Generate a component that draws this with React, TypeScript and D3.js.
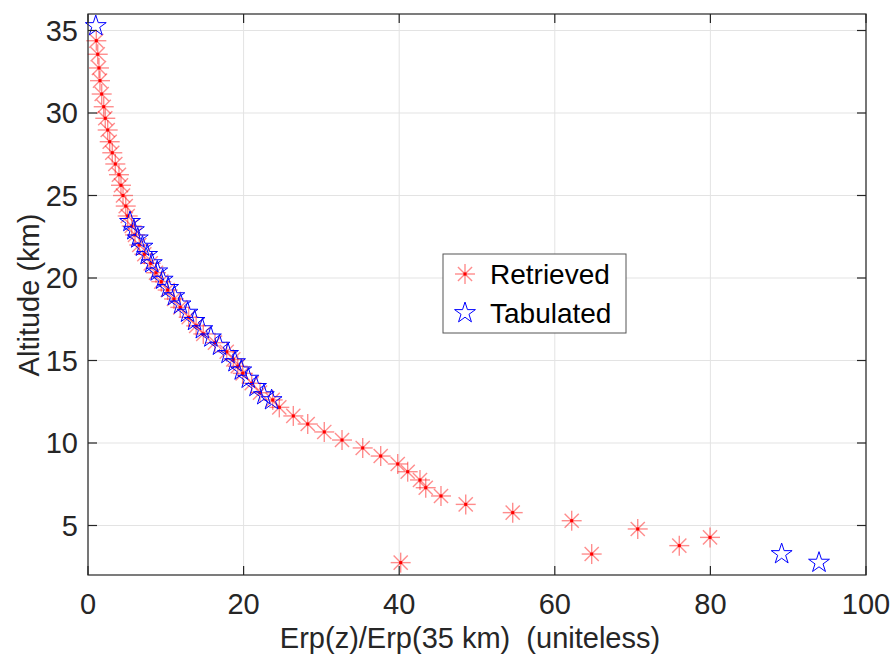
import React from "react";
import * as d3 from "d3";

const W = 892;
const H = 657;

// Retrieved profile: [Erp(z)/Erp(35 km), altitude km]
const retrievedX = [
  1.07, 1.25, 1.41, 1.54, 1.76, 2.02, 2.22, 2.53, 2.79, 3.12, 3.51, 3.98, 4.24, 4.5, 4.85, 5.1,
  5.62, 6.04, 6.59, 7.24, 8.06, 8.74, 9.42, 10.24, 11.05, 11.86, 12.94, 13.9, 14.82, 16.32, 17.83,
  18.68, 19.25, 19.88, 21.04, 22.11, 23.74, 24.59, 26.39, 28.24, 30.37, 32.65, 35.31, 37.62, 39.81,
  41.09, 42.67, 43.41, 45.37, 48.55, 54.59, 62.17, 70.66, 79.95, 76.0, 64.74, 40.19,
];
const retrievedAlt = [
  34.38, 33.56, 32.73, 31.96, 31.15, 30.38, 29.68, 28.97, 28.26, 27.59, 26.91, 26.26, 25.62, 25.0, 24.36, 23.76,
  23.15, 22.61, 22.0, 21.44, 20.89, 20.32, 19.78, 19.27, 18.73, 18.22, 17.62, 17.1, 16.61, 16.08, 15.53,
  15.07, 14.65, 14.22, 13.62, 13.05, 12.61, 12.16, 11.64, 11.15, 10.67, 10.18, 9.7, 9.21, 8.73,
  8.26, 7.76, 7.29, 6.79, 6.28, 5.78, 5.29, 4.79, 4.28, 3.78, 3.27, 2.75,
];

// Tabulated profile
const tabulatedX = [
  1.0, 5.4, 5.9, 6.4, 7.0, 7.6, 8.2, 8.9, 9.6, 10.3, 11.1, 11.9, 12.8, 13.7, 14.7, 15.8, 16.9,
  18.0, 18.9, 19.7, 20.6, 21.6, 22.6, 23.6, 89.16, 93.96,
];
const tabulatedAlt = [
  35.27, 23.4, 22.9, 22.4, 21.9, 21.4, 20.9, 20.4, 19.9, 19.4, 18.9, 18.4, 17.9, 17.4, 16.9, 16.4, 15.9,
  15.4, 14.9, 14.4, 13.9, 13.4, 12.9, 12.6, 3.27, 2.75,
];

const xTicks = [0, 20, 40, 60, 80, 100];
const yTicks = [5, 10, 15, 20, 25, 30, 35];
const xDomain = [0, 100];
const yDomain = [2, 36];

const xLabel = "Erp(z)/Erp(35 km)  (uniteless)";
const yLabel = "Altitude (km)";
const legendLabels = ["Retrieved", "Tabulated"];

const FONT = "'Liberation Sans', Arial, Helvetica, sans-serif";
const AX = "#262626";

function Asterisk({ x, y, r = 10 }: { x: number; y: number; r?: number }) {
  const d = r * 0.7071;
  return (
    <g transform={`translate(${x},${y})`}>
      <g stroke="#ff0000" strokeWidth={1.4} strokeOpacity={0.45}>
        <line x1={-r} y1={0} x2={r} y2={0} />
        <line x1={0} y1={-r} x2={0} y2={r} />
        <line x1={-d} y1={-d} x2={d} y2={d} />
        <line x1={-d} y1={d} x2={d} y2={-d} />
      </g>
      <rect x={-1.5} y={-1.5} width={3} height={3} fill="#ff0000" />
    </g>
  );
}

const starPath = d3.symbol().type(d3.symbolStar).size(135)() as string;

function Star({ x, y }: { x: number; y: number }) {
  return (
    <path
      d={starPath}
      transform={`translate(${x},${y})`}
      fill="none"
      stroke="#0000ff"
      strokeWidth={1}
      strokeLinejoin="miter"
    />
  );
}

export default function App() {
  const left = 88;
  const right = 866;
  const top = 14;
  const bottom = 575;
  const x = d3.scaleLinear().domain(xDomain).range([left, right]);
  const y = d3.scaleLinear().domain(yDomain).range([bottom, top]);
  const tickLen = 9;

  const legX = 443;
  const legY = 254;
  const legW = 183;
  const legH = 79;

  return (
    <svg
      width={W}
      height={H}
      style={{ position: "absolute", left: 0, top: 0, background: "#fff" }}
      fontFamily={FONT}
    >
      <rect x={0} y={0} width={W} height={H} fill="#fff" />
      {/* grid */}
      <g stroke="#e3e3e3" strokeWidth={1}>
        {xTicks.map((t) => (
          <line key={"gx" + t} x1={x(t)} x2={x(t)} y1={top} y2={bottom} />
        ))}
        {yTicks.map((t) => (
          <line key={"gy" + t} x1={left} x2={right} y1={y(t)} y2={y(t)} />
        ))}
      </g>

      {/* data */}
      <g>
        {retrievedX.map((v, i) => (
          <Asterisk key={"r" + i} x={x(v)} y={y(retrievedAlt[i])} />
        ))}
      </g>
      <g>
        {tabulatedX.map((v, i) => (
          <Star key={"t" + i} x={x(v)} y={y(tabulatedAlt[i])} />
        ))}
      </g>

      {/* axes box & ticks */}
      <rect x={left} y={top} width={right - left} height={bottom - top} fill="none" stroke={AX} strokeWidth={1.2} />
      <g stroke={AX} strokeWidth={1.2}>
        {xTicks.map((t) => (
          <g key={"tx" + t}>
            <line x1={x(t)} x2={x(t)} y1={bottom} y2={bottom - tickLen} />
            <line x1={x(t)} x2={x(t)} y1={top} y2={top + tickLen} />
          </g>
        ))}
        {yTicks.map((t) => (
          <g key={"ty" + t}>
            <line x1={left} x2={left + tickLen} y1={y(t)} y2={y(t)} />
            <line x1={right} x2={right - tickLen} y1={y(t)} y2={y(t)} />
          </g>
        ))}
      </g>

      {/* tick labels */}
      <g fill={AX} fontSize={29}>
        {xTicks.map((t) => (
          <text key={"lx" + t} x={x(t)} y={614} textAnchor="middle">
            {t}
          </text>
        ))}
        {yTicks.map((t) => (
          <text key={"ly" + t} x={78} y={y(t)} dy="0.36em" textAnchor="end">
            {t}
          </text>
        ))}
      </g>

      {/* axis labels */}
      <text
        x={470}
        y={648}
        textAnchor="middle"
        fontSize={29}
        fill={AX}
        style={{ whiteSpace: "pre" }}
      >
        {xLabel}
      </text>
      <text
        transform={`translate(39,${295}) rotate(-90)`}
        textAnchor="middle"
        fontSize={29}
        fill={AX}
      >
        {yLabel}
      </text>

      {/* legend */}
      <rect x={legX} y={legY} width={legW} height={legH} fill="#fff" stroke="#555" strokeWidth={1} />
      <Asterisk x={465} y={274} />
      <Star x={465} y={313} />
      <g fontSize={28} fill="#000">
        <text x={490} y={274} dy="0.36em">
          {legendLabels[0]}
        </text>
        <text x={490} y={313} dy="0.36em">
          {legendLabels[1]}
        </text>
      </g>
    </svg>
  );
}
